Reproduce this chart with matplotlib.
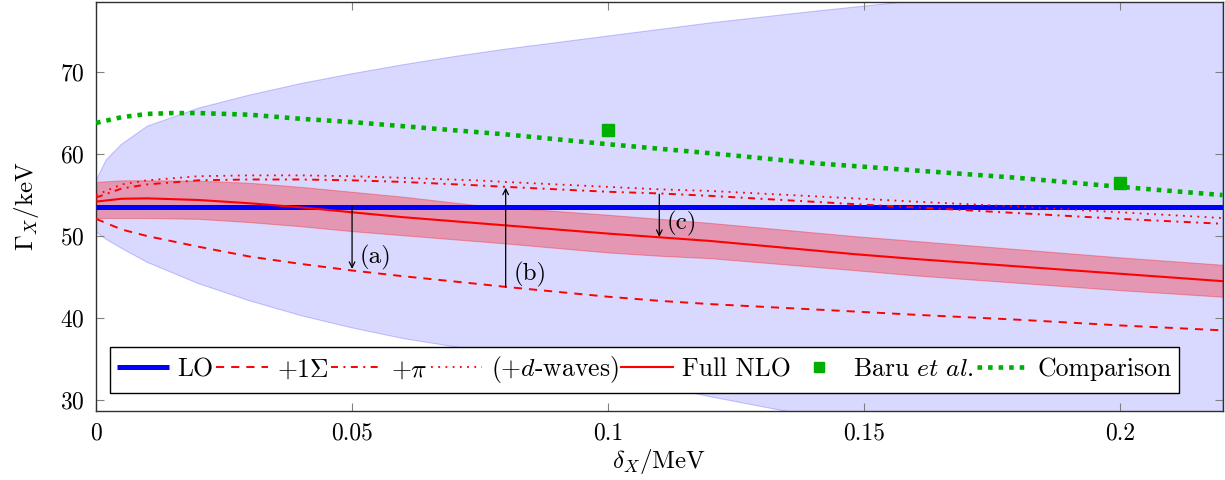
import matplotlib
matplotlib.use("Agg")
import matplotlib.pyplot as plt

plt.rcParams['font.family'] = 'serif'
plt.rcParams['font.serif'] = ['cmr10']
plt.rcParams['mathtext.fontset'] = 'cm'
plt.rcParams['axes.formatter.use_mathtext'] = True

# blue uncertainty region
band_x = [0, 0.002, 0.005, 0.01, 0.02, 0.03, 0.04, 0.05, 0.06, 0.07, 0.08, 0.1, 0.12, 0.14, 0.16, 0.18, 0.2, 0.22]
band_hi = [56.8, 59.3, 61.2, 63.4, 65.6, 67.2, 68.6, 69.8, 70.9, 71.9, 72.8, 74.4, 76.0, 77.4, 78.7, 79.8, 80.9, 82.0]
band_lo = [50.5, 49.6, 48.5, 46.8, 44.2, 42.1, 40.3, 38.8, 37.5, 36.5, 35.5, 33.0, 30.4, 28.0, 25.8, 23.8, 22.0, 20.3]

x = [0, 0.005, 0.01, 0.02, 0.03, 0.04, 0.05, 0.06, 0.074, 0.08, 0.1, 0.11, 0.12, 0.148, 0.16, 0.18, 0.2, 0.22]
lo = [53.6] * len(x)
sigma = [52.1, 50.8, 50.0, 48.7, 47.5, 46.6, 45.8, 45.1, 44.2, 43.8, 42.6, 42.1, 41.7, 40.8, 40.4, 39.8, 39.1, 38.5]
pion = [54.7, 55.8, 56.3, 56.8, 56.9, 56.9, 56.8, 56.6, 56.2, 56.0, 55.4, 55.2, 54.9, 53.9, 53.5, 52.8, 52.1, 51.5]
dwave = [55.0, 56.3, 56.8, 57.3, 57.4, 57.4, 57.3, 57.1, 56.8, 56.6, 56.0, 55.7, 55.5, 54.6, 54.2, 53.6, 52.9, 52.2]
nlo = [54.2, 54.55, 54.6, 54.4, 54.0, 53.5, 52.9, 52.3, 51.6, 51.3, 50.3, 49.85, 49.4, 47.8, 47.2, 46.3, 45.4, 44.5]
nlo_hi = [56.6, 56.8, 56.8, 56.75, 56.5, 56.0, 55.4, 54.8, 53.8, 53.5, 52.6, 52.1, 51.6, 50.0, 49.4, 48.4, 47.4, 46.5]
nlo_lo = [52.2, 52.2, 52.2, 52.1, 51.7, 51.2, 50.6, 50.1, 49.4, 49.1, 48.0, 47.6, 47.3, 45.85, 45.2, 44.3, 43.4, 42.6]

comp_x = [0, 0.005, 0.01, 0.015, 0.02, 0.03, 0.04, 0.05, 0.06, 0.07, 0.08, 0.1, 0.12, 0.14, 0.16, 0.18, 0.2, 0.22]
comp = [63.8, 64.5, 64.9, 65.0, 65.0, 64.8, 64.3, 63.9, 63.4, 62.9, 62.4, 61.2, 60.1, 58.9, 58.0, 57.1, 56.0, 55.0]

baru_x = [0.1, 0.2]
baru_y = [62.9, 56.5]

xticks = [0, 0.05, 0.1, 0.15, 0.2]
xtick_labels = ["0", "0.05", "0.1", "0.15", "0.2"]
yticks = [30, 40, 50, 60, 70]

green = '#00b000'
fs = 17

fig = plt.figure(figsize=(12.25, 4.8), dpi=100)
ax = fig.add_axes([0.0784, 0.1437, 0.9196, 0.852])

ax.fill_between(band_x, band_lo, band_hi, facecolor=(0, 0, 1, 0.15), edgecolor=(0, 0, 1, 0.2), lw=0.8, zorder=1)
ax.fill_between(x, nlo_lo, nlo_hi, facecolor=(1, 0, 0, 0.3), edgecolor=(1, 0, 0, 0.3), lw=0.8, zorder=2)

ax.plot(x, lo, color='blue', lw=3.6, solid_capstyle='butt', label='LO', zorder=3)
ax.plot(x, sigma, color='red', lw=1.4, linestyle=(0, (4.2, 3.6)), label=r'$+1\Sigma$', zorder=4)
ax.plot(x, pion, color='red', lw=1.4, linestyle=(0, (3.6, 2.8, 1, 2.8)), label=r'$+\pi$', zorder=4)
ax.plot(x, dwave, color='red', lw=1.3, linestyle=(0, (1, 3.0)), label=r'$(+d$-waves)', zorder=4)
ax.plot(x, nlo, color='red', lw=1.5, label='Full NLO', zorder=5)
ax.plot(baru_x, baru_y, 's', color=green, ms=8, label=r'Baru $\mathit{et\ al.}$', zorder=6)
ax.plot(comp_x, comp, color=green, lw=3.3, linestyle=(0, (1, 1.3)), dash_capstyle='butt', label='Comparison', zorder=6)

arrow = dict(arrowstyle='->', color='black', lw=0.9, shrinkA=0, shrinkB=0)
ax.annotate('', xy=(0.05, 46.0), xytext=(0.05, 53.6), arrowprops=arrow, zorder=7)
ax.annotate('', xy=(0.08, 55.9), xytext=(0.08, 43.8), arrowprops=arrow, zorder=7)
ax.annotate('', xy=(0.11, 49.9), xytext=(0.11, 55.1), arrowprops=arrow, zorder=7)
ax.text(0.0515, 47.4, '(a)', fontsize=18, va='center', ha='left', zorder=7)
ax.text(0.0815, 45.3, '(b)', fontsize=18, va='center', ha='left', zorder=7)
ax.text(0.1115, 51.5, '(c)', fontsize=18, va='center', ha='left', zorder=7)

ax.set_xlim(0, 0.22)
ax.set_ylim(28.66, 78.54)
ax.set_xticks(xticks)
ax.set_xticklabels(xtick_labels)
ax.set_yticks(yticks)
ax.tick_params(direction='in', length=6, color='#808080', labelsize=fs,
               top=True, right=True, pad=8)
for s in ax.spines.values():
    s.set_color('#303030')
    s.set_linewidth(1.0)

ax.set_xlabel(r'$\delta_X/\mathrm{MeV}$', fontsize=18, labelpad=2)
ax.set_ylabel(r'$\Gamma_X/\mathrm{keV}$', fontsize=18, labelpad=14)

leg = ax.legend(loc='lower left', bbox_to_anchor=(0.012, 0.044), borderaxespad=0,
                ncol=7, fontsize=18.5, frameon=True, fancybox=False, framealpha=1,
                edgecolor='black', handlelength=2.0, handletextpad=0.35,
                columnspacing=0.1, borderpad=0.3, markerscale=0.9)
leg.get_frame().set_linewidth(1.0)
leg.set_zorder(10)

fig.savefig('out.png', dpi=100)
